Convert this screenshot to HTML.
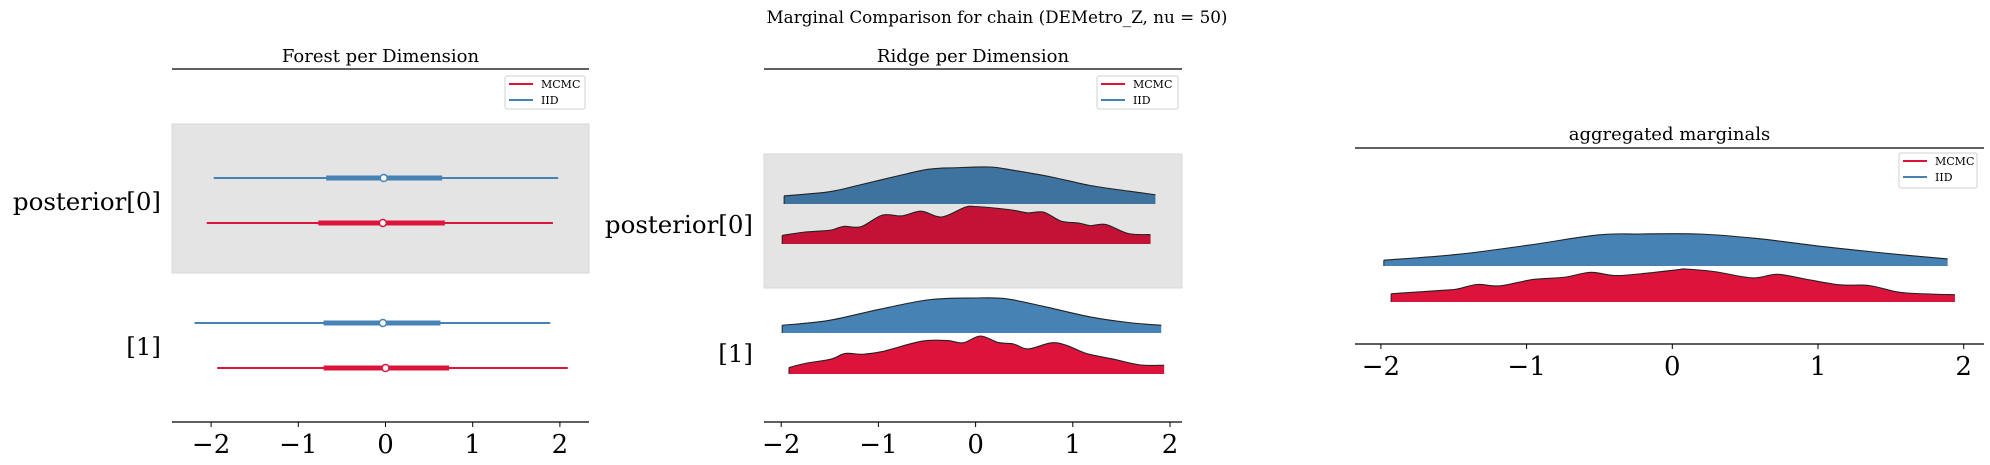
<!DOCTYPE html>
<html><head><meta charset="utf-8">
<style>
html,body{margin:0;padding:0;background:#fff;}
svg{display:block;font-family:"DejaVu Serif","Liberation Serif",serif;}
</style></head>
<body>
<svg id="fig" width="1990" height="465" viewBox="0 0 1990 465" xmlns="http://www.w3.org/2000/svg">
<text x="997" y="23" font-size="16.8" text-anchor="middle">Marginal Comparison for chain (DEMetro_Z, nu = 50)</text>
<g id="p1"></g>
<g id="p2"></g>
<g id="p3"></g>
</svg>
<script>
// ---- data ----
const ticks = [-2, -1, 0, 1, 2];
const tickLabels = ["\u22122", "\u22121", "0", "1", "2"];
const seriesNames = ["MCMC", "IID"];
// forest: [lo, thickLo, median, thickHi, hi]
const forestIID0 = [-1.97, -0.68, -0.02, 0.65, 1.98];
const forestMCMC0 = [-2.05, -0.77, -0.03, 0.68, 1.92];
const forestIID1 = [-2.19, -0.71, -0.03, 0.63, 1.89];
const forestMCMC1 = [-1.93, -0.71, 0.0, 0.73, 2.09];
// ridge densities (x, relative height)
const ridgeIID0X = [-1.97,-1.51,-1.20,-0.80,-0.48,-0.21,0.15,0.39,0.78,1.18,1.57,1.85];
const ridgeIID0Y = [0.22,0.33,0.51,0.76,0.94,0.98,1.0,0.91,0.73,0.5,0.35,0.25];
const ridgeMCMC0X = [-1.99,-1.75,-1.49,-1.36,-1.18,-0.96,-0.76,-0.56,-0.35,-0.11,-0.01,0.19,0.39,0.54,0.70,0.88,1.06,1.18,1.34,1.57,1.80];
const ridgeMCMC0Y = [0.23,0.32,0.37,0.47,0.46,0.77,0.75,0.875,0.72,0.98,1.0,0.96,0.90,0.83,0.85,0.61,0.56,0.49,0.52,0.28,0.25];
const ridgeIID1X = [-1.99,-1.51,-1.0,-0.48,-0.01,0.31,0.70,1.18,1.57,1.91];
const ridgeIID1Y = [0.22,0.36,0.67,0.95,1.0,0.98,0.76,0.46,0.30,0.22];
const ridgeMCMC1X = [-1.92,-1.75,-1.49,-1.34,-1.16,-0.96,-0.56,-0.29,-0.13,0.05,0.23,0.39,0.54,0.78,0.94,1.14,1.42,1.69,1.94];
const ridgeMCMC1Y = [0.17,0.28,0.39,0.54,0.52,0.59,0.86,0.88,0.82,1.0,0.83,0.79,0.66,0.82,0.75,0.54,0.39,0.24,0.23];
const aggIIDX = [-1.98,-1.48,-0.99,-0.51,-0.22,0.18,0.58,1.01,1.44,1.89];
const aggIIDY = [0.18,0.36,0.65,0.97,1.0,1.0,0.86,0.62,0.41,0.22];
const aggMCMCX = [-1.93,-1.59,-1.48,-1.34,-1.18,-0.96,-0.74,-0.56,-0.39,-0.16,0.04,0.09,0.29,0.55,0.72,0.92,1.15,1.35,1.55,1.72,1.94];
const aggMCMCY = [0.25,0.35,0.39,0.53,0.49,0.68,0.75,0.9,0.8,0.88,0.98,1.0,0.92,0.73,0.84,0.69,0.52,0.5,0.3,0.25,0.22];

const NS = "http://www.w3.org/2000/svg";
const RED = "#dc143c", BLUE = "#4682b4";
function mk(parent, tag, attrs, text) {
  const e = document.createElementNS(NS, tag);
  for (const k in attrs) e.setAttribute(k, attrs[k]);
  if (text !== undefined) e.textContent = text;
  parent.appendChild(e);
  return e;
}
function linScale(x0px, unit) { return v => x0px + v * unit; }

function axes(g, x0, x1, top, bottom, sx, title, titleY, prefix) {
  const t = mk(g, "text", {x: (x0 + x1) / 2, y: titleY, "font-size": 18, "text-anchor": "middle"}, title);
  
  
  const ts = mk(g, "line", {x1: x0, x2: x1, y1: top, y2: top, stroke: "#000", "stroke-width": 1.3});
  
  
  const bs = mk(g, "line", {x1: x0, x2: x1, y1: bottom, y2: bottom, stroke: "#000", "stroke-width": 1.3});
  
  
  ticks.forEach((v, i) => {
    const x = sx(v);
    const tk = mk(g, "line", {x1: x, x2: x, y1: bottom, y2: bottom + 5, stroke: "#000", "stroke-width": 1});
    
    
    const tl = mk(g, "text", {x: x, y: bottom + 31, "font-size": 26, "text-anchor": "middle"}, tickLabels[i]);
    
    
  });
}
function legend(g, x0, y0, w, h, prefix) {
  const lg = mk(g, "g", {});
  
  
  mk(lg, "rect", {x: x0, y: y0, width: w, height: h, rx: 2, fill: "#fff", stroke: "#d0d0d0", "stroke-width": 1});
  [RED, BLUE].forEach((c, i) => {
    const y = y0 + 8 + i * 16;
    const e = mk(lg, "g", {});
    
    
    mk(e, "line", {x1: x0 + 4, x2: x0 + 28, y1: y, y2: y, stroke: c, "stroke-width": 2});
    mk(e, "text", {x: x0 + 36, y: y + 4, "font-size": 11}, seriesNames[i]);
  });
}
function forestRow(g, sx, y, d, color, name) {
  const r = mk(g, "g", {});
  
  
  mk(r, "line", {x1: sx(d[0]), x2: sx(d[4]), y1: y, y2: y, stroke: color, "stroke-width": 2});
  mk(r, "line", {x1: sx(d[1]), x2: sx(d[3]), y1: y, y2: y, stroke: color, "stroke-width": 5});
  mk(r, "circle", {cx: sx(d[2]), cy: y, r: 3.5, fill: "#fff", stroke: color, "stroke-width": 1.5});
}
function smoothPath(pts) {
  let d = "M" + pts[0][0] + "," + pts[0][1];
  for (let i = 0; i < pts.length - 1; i++) {
    const p0 = pts[Math.max(0, i - 1)], p1 = pts[i], p2 = pts[i + 1], p3 = pts[Math.min(pts.length - 1, i + 2)];
    const c1 = [p1[0] + (p2[0] - p0[0]) / 6, p1[1] + (p2[1] - p0[1]) / 6];
    const c2 = [p2[0] - (p3[0] - p1[0]) / 6, p2[1] - (p3[1] - p1[1]) / 6];
    d += " C" + c1[0] + "," + c1[1] + " " + c2[0] + "," + c2[1] + " " + p2[0] + "," + p2[1];
  }
  return d;
}
function ridge(g, sx, base, height, xs, ys, fill, name) {
  const pts = xs.map((v, i) => [sx(v), base - ys[i] * height]);
  const top = smoothPath(pts);
  const r = mk(g, "g", {});
  
  
  const xa = sx(xs[0]), xb = sx(xs[xs.length - 1]);
  mk(r, "path", {d: top + " L" + xb + "," + base + " L" + xa + "," + base + " Z", fill: fill, stroke: "none"});
  mk(r, "path", {d: top, fill: "none", stroke: "#222", "stroke-width": 1.1});
  mk(r, "line", {x1: xa, x2: xa, y1: base, y2: pts[0][1], stroke: "#222", "stroke-width": 1});
}
function ylabel(g, x, y, txt, name) {
  const t = mk(g, "text", {x: x, y: y + 9, "font-size": 24.5, "text-anchor": "end"}, txt);
  
  
}

// ---- panel 1: forest ----
const g1 = document.getElementById("p1");
const sx1 = linScale(385.5, 87.2);
mk(g1, "rect", {x: 172, y: 124, width: 417, height: 149, fill: "#e4e4e4", stroke: "#d8d8d8"});
axes(g1, 172, 589, 69, 422, sx1, "Forest per Dimension", 62, "forest");
forestRow(g1, sx1, 178, forestIID0, BLUE, "forest-iid-0");
forestRow(g1, sx1, 223, forestMCMC0, RED, "forest-mcmc-0");
forestRow(g1, sx1, 323, forestIID1, BLUE, "forest-iid-1");
forestRow(g1, sx1, 368, forestMCMC1, RED, "forest-mcmc-1");
ylabel(g1, 161, 201, "posterior[0]", "forest-ylabel-0");
ylabel(g1, 161, 346, "[1]", "forest-ylabel-1");
legend(g1, 505, 76, 80, 33, "forest");

// ---- panel 2: ridge ----
const g2 = document.getElementById("p2");
const sx2 = linScale(975.6, 97.2);
mk(g2, "rect", {x: 764, y: 154, width: 418, height: 134, fill: "#e4e4e4", stroke: "#d8d8d8"});
axes(g2, 764, 1182, 69, 422, sx2, "Ridge per Dimension", 62, "ridge");
ridge(g2, sx2, 204, 37, ridgeIID0X, ridgeIID0Y, "#3e73a0", "ridge-iid-0");
ridge(g2, sx2, 244, 37.5, ridgeMCMC0X, ridgeMCMC0Y, "#c41236", "ridge-mcmc-0");
ridge(g2, sx2, 333, 35, ridgeIID1X, ridgeIID1Y, BLUE, "ridge-iid-1");
ridge(g2, sx2, 374, 38, ridgeMCMC1X, ridgeMCMC1Y, RED, "ridge-mcmc-1");
ylabel(g2, 753, 224, "posterior[0]", "ridge-ylabel-0");
ylabel(g2, 753, 353, "[1]", "ridge-ylabel-1");
legend(g2, 1097, 76, 81, 33, "ridge");

// ---- panel 3: aggregated ----
const g3 = document.getElementById("p3");
const sx3 = linScale(1672.3, 145.7);
axes(g3, 1355, 1984, 148, 344, sx3, "aggregated marginals", 140, "aggregated");
ridge(g3, sx3, 266, 32, aggIIDX, aggIIDY, BLUE, "aggregated-iid");
ridge(g3, sx3, 302, 33, aggMCMCX, aggMCMCY, RED, "aggregated-mcmc");
legend(g3, 1899, 153, 78, 35, "aggregated");
</script>
</body></html>
